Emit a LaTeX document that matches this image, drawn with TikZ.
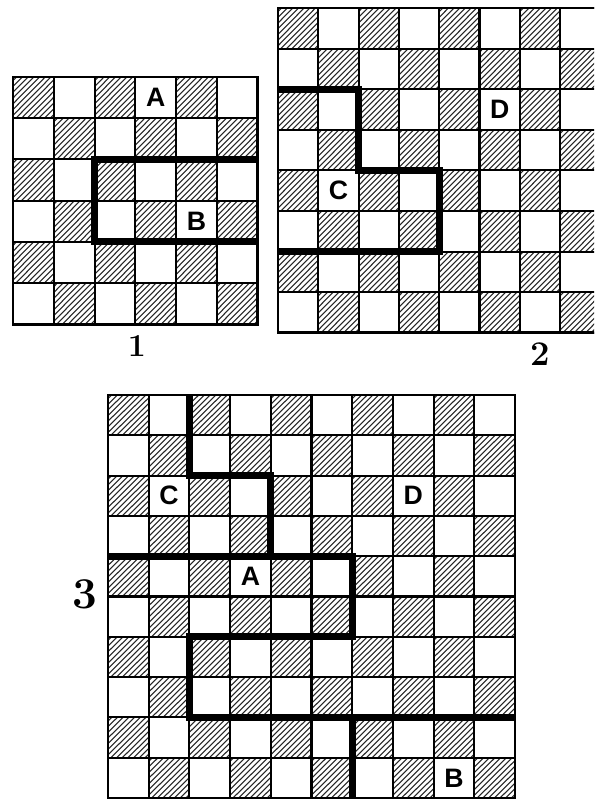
\documentclass[tikz,border=0pt]{standalone}
\usepackage{fontspec}
\newfontfamily\lblfont{Liberation Sans}
\tikzset{
  hatchline/.style={line width=0.8pt, black!85},
  gridline/.style={line width=1.55pt},
  boardedge/.style={line width=2.2pt},
  cutline/.style={line width=5.2pt, line join=miter},
  cellletter/.style={font=\lblfont\bfseries\fontsize{20}{20}\selectfont, inner sep=1pt, fill=white},
  boardnum/.style={font=\bfseries, inner sep=0pt},
}
\newcommand\drawboard[1]{%
  \pgfmathtruncatemacro\bmax{#1-1}%
  \foreach \r in {0,...,\bmax}{%
    \foreach \c in {0,...,\bmax}{%
      \pgfmathtruncatemacro\pp{mod(\r+\c,2)}%
      \ifnum\pp=0
        \begin{scope}
          \clip (\c,\r) rectangle ++(1,1);
          \foreach \t in {-1.05,-0.91,...,1.1}
            \draw[hatchline] ({\c+\t},{\r+1}) -- ++(1,-1);
        \end{scope}
      \fi
    }%
  }%
  \foreach \i in {0,...,#1}{%
    \draw[gridline] (\i,0) -- (\i,#1);
    \draw[gridline] (0,\i) -- (#1,\i);
  }%
  \draw[boardedge] (0,0) rectangle (#1,#1);
}
\begin{document}
\begin{tikzpicture}[x=0.75pt,y=-0.75pt]
\useasboundingbox (0,0) rectangle (594,803);
\fill[white] (0,0) rectangle (594,803);
\begin{scope}
\clip (0,0) rectangle (594,803);
% board 1
\begin{scope}[shift={(13,77)},x=30.6pt,y=-30.9pt]
  \drawboard{6}
  \draw[cutline] (6,2) -- (2,2) -- (2,4) -- (6,4);
  \node[cellletter] (b1A) at (3.5,0.5) {A};
  \node[cellletter] (b1B) at (4.5,3.5) {B};
\end{scope}
% board 2
\begin{scope}[shift={(278,8)},x=30.225pt,y=-30.45pt]
  \drawboard{8}
  \draw[cutline] (0,2) -- (2,2) -- (2,4) -- (4,4) -- (4,6) -- (0,6);
  \node[cellletter] (b2D) at (5.5,2.5) {D};
  \node[cellletter] (b2C) at (1.5,4.5) {C};
\end{scope}
% board 3
\begin{scope}[shift={(108,395)},x=30.525pt,y=-30.225pt]
  \drawboard{10}
  \draw[cutline] (2,0) -- (2,2) -- (4,2) -- (4,4);
  \draw[cutline] (0,4) -- (6,4) -- (6,6) -- (2,6) -- (2,8) -- (10,8);
  \draw[cutline] (6,8) -- (6,10);
  \node[cellletter] (b3C) at (1.5,2.5) {C};
  \node[cellletter] (b3D) at (7.5,2.5) {D};
  \node[cellletter] (b3A) at (3.5,4.5) {A};
  \node[cellletter] (b3B) at (8.5,9.5) {B};
\end{scope}
\end{scope}
\node[boardnum, font=\bfseries\fontsize{24}{24}\selectfont] (n1) at (137,346) {1};
\node[boardnum, font=\bfseries\fontsize{26}{26}\selectfont] (n2) at (540,354) {2};
\node[boardnum, font=\bfseries\fontsize{33}{33}\selectfont] (n3) at (85,594) {3};
\end{tikzpicture}
\end{document}
